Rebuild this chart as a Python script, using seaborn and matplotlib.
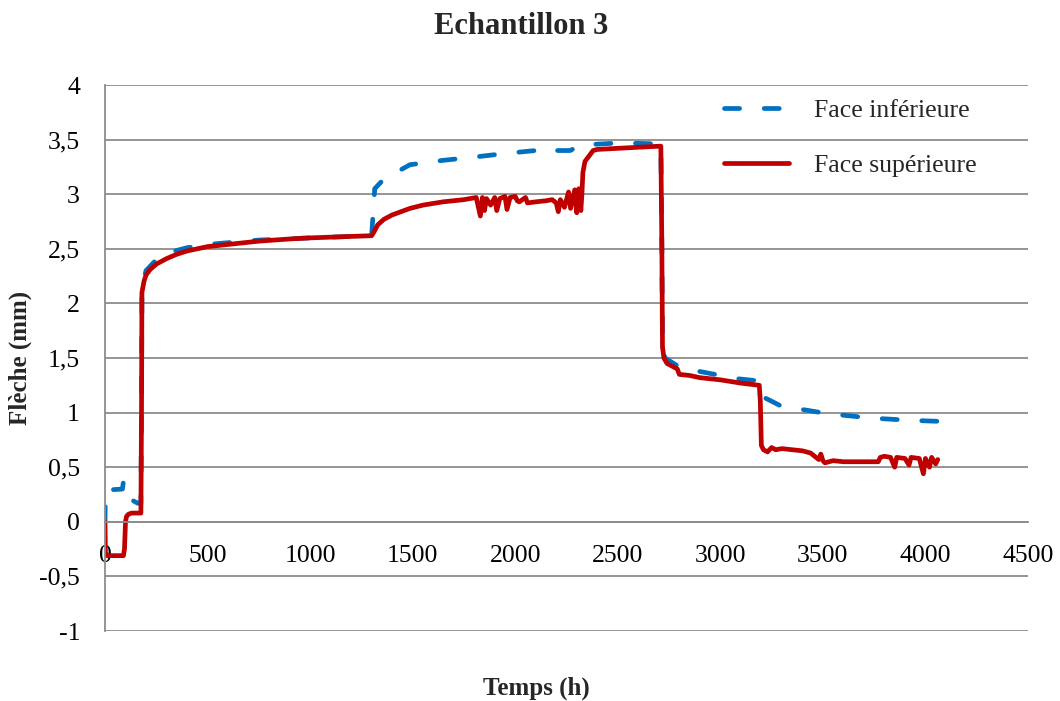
import numpy as np
import pandas as pd
import matplotlib
matplotlib.use("Agg")
import matplotlib.pyplot as plt
import seaborn as sns

title = "Echantillon 3"
xlabel = "Temps (h)"
ylabel = "Flèche (mm)"
series_names = ["Face inférieure", "Face supérieure"]

x_ticks = [0, 500, 1000, 1500, 2000, 2500, 3000, 3500, 4000, 4500]
y_ticks = [-1, -0.5, 0, 0.5, 1, 1.5, 2, 2.5, 3, 3.5, 4]
y_tick_labels = ["-1", "-0,5", "0", "0,5", "1", "1,5", "2", "2,5", "3", "3,5", "4"]

# Face inférieure (blue, dashed)
t_inf = [0, 2, 85, 90, 95, 110, 130, 160, 175, 178, 180, 200, 250, 300, 400, 500,
         750, 1000, 1300, 1308, 1315, 1355, 1400, 1487, 1648, 1800, 1892, 1990,
         2100, 2120, 2150, 2268, 2318, 2513, 2710, 2715, 2718, 2730, 2807, 3085,
         3188, 3212, 3296, 3525, 3736, 3917, 4063]
v_inf = [0.0, 0.29, 0.30, 0.37, 0.30, 0.25, 0.20, 0.17, 0.17, 1.0, 2.15, 2.30, 2.40,
         2.46, 2.51, 2.54, 2.58, 2.60, 2.62, 2.85, 3.05, 3.13, 3.18, 3.27, 3.31,
         3.34, 3.36, 3.38, 3.40, 3.42, 3.40, 3.40, 3.45, 3.47, 3.46, 2.5, 1.6,
         1.50, 1.41, 1.31, 1.29, 1.14, 1.06, 0.99, 0.95, 0.93, 0.92]

# Face supérieure (red, solid)
t_sup = [0, 2, 10, 90, 95, 100, 105, 115, 130, 175, 178, 180, 190, 200, 220, 250,
         300, 350, 400, 500, 600, 750, 900, 1000, 1150, 1300, 1310, 1330, 1360,
         1400, 1487, 1550, 1648, 1750, 1810, 1830, 1840, 1850, 1860, 1880, 1900,
         1910, 1925, 1950, 1960, 1975, 2000, 2010, 2020, 2050, 2060, 2100, 2150,
         2180, 2200, 2210, 2220, 2240, 2260, 2270, 2290, 2300, 2310, 2320, 2325,
         2330, 2340, 2360, 2380, 2400, 2500, 2600, 2710, 2715, 2718, 2725, 2740,
         2770, 2790, 2800, 2850, 2900, 3000, 3100, 3190, 3195, 3200, 3210, 3230,
         3250, 3270, 3300, 3350, 3400, 3440, 3460, 3480, 3490, 3500, 3510, 3550,
         3600, 3650, 3700, 3770, 3780, 3800, 3830, 3850, 3860, 3900, 3920, 3930,
         3970, 3990, 4000, 4020, 4030, 4050, 4060]
v_sup = [0.0, -0.28, -0.31, -0.31, -0.25, 0.0, 0.05, 0.07, 0.08, 0.08, 1.0, 2.10,
         2.20, 2.26, 2.31, 2.36, 2.41, 2.45, 2.48, 2.52, 2.54, 2.57, 2.59, 2.60,
         2.61, 2.62, 2.65, 2.72, 2.77, 2.81, 2.87, 2.90, 2.93, 2.95, 2.97, 2.80,
         2.97, 2.85, 2.96, 2.90, 2.97, 2.85, 2.96, 2.98, 2.86, 2.97, 2.98, 2.94,
         2.93, 2.97, 2.92, 2.93, 2.94, 2.95, 2.92, 2.84, 2.95, 2.88, 3.02, 2.87,
         3.04, 2.83, 3.05, 2.85, 3.00, 3.20, 3.30, 3.35, 3.40, 3.41, 3.42, 3.43,
         3.44, 2.5, 1.6, 1.50, 1.45, 1.42, 1.40, 1.35, 1.34, 1.32, 1.30, 1.27,
         1.25, 1.10, 0.70, 0.66, 0.64, 0.68, 0.66, 0.67, 0.66, 0.65, 0.63, 0.60,
         0.57, 0.62, 0.56, 0.54, 0.56, 0.55, 0.55, 0.55, 0.55, 0.59, 0.60, 0.59,
         0.50, 0.59, 0.58, 0.52, 0.59, 0.58, 0.44, 0.58, 0.50, 0.59, 0.53, 0.57]

blue = "#0070C0"
red = "#C00000"
grid_color = "#8C8C8C"

sns.set_style("white")
plt.rcParams["font.family"] = ["Liberation Serif", "DejaVu Serif"]

fig = plt.figure(figsize=(10.6, 7.01), dpi=100)
ax = fig.add_axes([105 / 1060, 1 - 631 / 701, 923 / 1060, 546 / 701])

df_inf = pd.DataFrame({"t": t_inf, "v": v_inf})
df_sup = pd.DataFrame({"t": t_sup, "v": v_sup})

sns.lineplot(data=df_inf, x="t", y="v", ax=ax, color=blue, lw=3.4,
             estimator=None, sort=False, label=series_names[0],
             dash_capstyle="round", solid_capstyle="round")
ax.lines[-1].set_dashes([3.2, 5.2])
sns.lineplot(data=df_sup, x="t", y="v", ax=ax, color=red, lw=3.4,
             estimator=None, sort=False, label=series_names[1],
             solid_capstyle="round", solid_joinstyle="round")

ax.set_xlim(0, 4500)
ax.set_ylim(-1, 4)
ax.set_xticks(x_ticks)
ax.set_xticklabels([str(v) for v in x_ticks])
ax.set_yticks(y_ticks)
ax.set_yticklabels(y_tick_labels)

ax.yaxis.grid(True, color=grid_color, lw=1.3)
ax.set_axisbelow(True)
for s in ["top", "right"]:
    ax.spines[s].set_visible(False)
ax.spines["left"].set_color(grid_color)
ax.spines["left"].set_linewidth(1.3)
ax.spines["bottom"].set_position(("data", 0))
ax.spines["bottom"].set_color(grid_color)
ax.spines["bottom"].set_linewidth(1.3)
ax.tick_params(axis="both", length=0, labelsize=18.5, colors="black")
ax.tick_params(axis="x", pad=17)
ax.tick_params(axis="y", pad=18)

ax.set_xlabel(xlabel, fontsize=18, fontweight="bold")
ax.xaxis.label.set_verticalalignment("center")
ax.xaxis.set_label_coords((536 - 105) / 923, -(688 - 631) / 546)
ax.set_ylabel(ylabel, fontsize=18, fontweight="bold")
ax.yaxis.label.set_verticalalignment("center")
ax.yaxis.set_label_coords(-(105 - 20) / 923, 0.5)

fig.suptitle(title, fontsize=22, fontweight="bold", x=521 / 1060, y=1 - 26 / 701, va="center")

leg = ax.legend(loc="upper left", bbox_to_anchor=(0.646, 1.016), frameon=False,
                fontsize=18.5, handlelength=2.5, handletextpad=1.0, labelspacing=1.25)

fig.savefig("out.png", dpi=100)
